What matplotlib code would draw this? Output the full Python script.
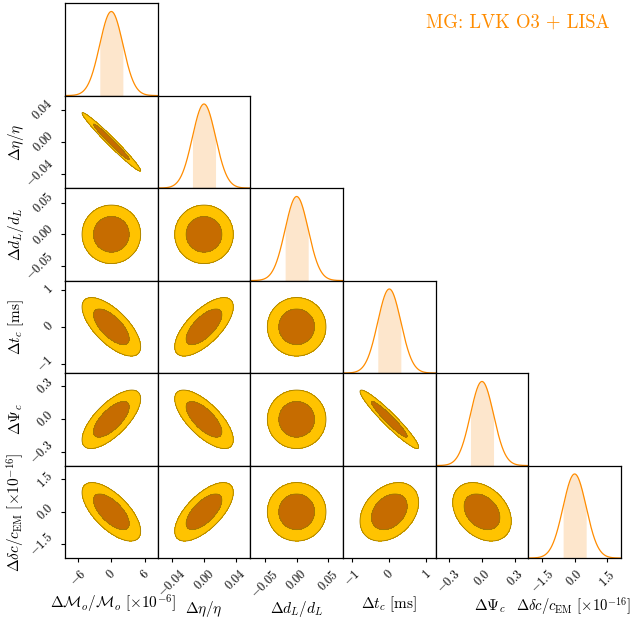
import numpy as np
import matplotlib
matplotlib.use("Agg")
import matplotlib.pyplot as plt

plt.rcParams['mathtext.fontset'] = 'cm'
plt.rcParams['font.family'] = ['DejaVu Serif']

# parameter labels, 1-sigma widths and ticks
labels = [r'$\Delta\mathcal{M}_o/\mathcal{M}_o\ [\times 10^{-6}]$',
          r'$\Delta\eta/\eta$',
          r'$\Delta d_L/d_L$',
          r'$\Delta t_c\ [\mathrm{ms}]$',
          r'$\Delta\Psi_c$',
          r'$\Delta\delta c/c_{\rm EM}\ [\times 10^{-16}]$']
sigmas = [2.08, 0.0145, 0.0183, 0.314, 0.105, 0.536]
ticks = [[-6, 0, 6], [-0.04, 0.0, 0.04], [-0.05, 0.0, 0.05],
         [-1, 0, 1], [-0.3, 0.0, 0.3], [-1.5, 0.0, 1.5]]
tick_fmt = ['%d', '%.2f', '%.2f', '%d', '%.1f', '%.1f']

# pairwise correlation coefficients (i, j)
corr = {(0, 1): -0.98, (0, 2): 0.0, (0, 3): -0.68, (0, 4): 0.70, (0, 5): -0.66,
        (1, 2): 0.0, (1, 3): 0.68, (1, 4): -0.70, (1, 5): 0.66,
        (2, 3): 0.0, (2, 4): 0.0, (2, 5): 0.0,
        (3, 4): -0.95, (3, 5): 0.32,
        (4, 5): -0.32}

# 68% and 95% 2D credible regions (Mahalanobis radii)
radii = [1.54, 2.53]

# label positions in figure pixels (x labels: centre x, y from top)
xlab_pos = [(113, 604), (204, 609), (297, 609), (389, 604), (490, 606), (574, 606)]
xlab_size = [11, 11, 11, 11, 11, 10.6]
ylab_x = 16

c_line = '#FF8C00'
c_shade = '#FDE6CC'
c_outer = '#FFC300'
c_inner = '#C66C00'
c_edge = '#A07C00'

W, H = 633, 618
n = len(labels)
fig = plt.figure(figsize=(W / 100, H / 100), dpi=100)
left, right, top, bottom = 0.1027, 0.981, 0.995, 0.097
w = (right - left) / n
h = (top - bottom) / n


def fmt(v, f):
    return '$' + (f % v) + '$'


for i in range(n):
    for j in range(i + 1):
        ax = fig.add_axes([left + j * w, top - (i + 1) * h, w, h])
        sx = sigmas[j]
        xs = np.linspace(-4 * sx, 4 * sx, 600)
        if i == j:
            pdf = np.exp(-0.5 * (xs / sx) ** 2)
            ax.plot(xs, pdf, color=c_line, lw=0.9)
            m = np.abs(xs) <= sx
            ax.fill_between(xs[m], 0, pdf[m], color=c_shade, lw=0)
            ax.set_ylim(0, 1.1)
            ax.set_yticks([])
        else:
            sy = sigmas[i]
            rho = corr[(j, i)]
            ys = np.linspace(-4 * sy, 4 * sy, 600)
            X, Y = np.meshgrid(xs, ys)
            u, v = X / sx, Y / sy
            chi2 = (u ** 2 - 2 * rho * u * v + v ** 2) / (1 - rho ** 2)
            ax.contourf(X, Y, chi2, levels=[0, radii[1] ** 2], colors=[c_outer])
            ax.contourf(X, Y, chi2, levels=[0, radii[0] ** 2], colors=[c_inner])
            ax.contour(X, Y, chi2, levels=[radii[0] ** 2, radii[1] ** 2],
                       colors=[c_edge], linewidths=0.6)
            ax.set_ylim(-4 * sy, 4 * sy)
            ax.set_yticks(ticks[i])
            if j == 0:
                ax.set_yticklabels([fmt(t, tick_fmt[i]) for t in ticks[i]],
                                   rotation=45, va='center', fontsize=9)
            else:
                ax.set_yticklabels([])
        ax.set_xlim(-4 * sx, 4 * sx)
        ax.set_xticks(ticks[j])
        if i == n - 1:
            ax.set_xticklabels([fmt(t, tick_fmt[j]) for t in ticks[j]],
                               rotation=45, ha='center', fontsize=9)
        else:
            ax.set_xticklabels([])
        ax.tick_params(length=3, width=0.8)
        if i != n - 1:
            ax.tick_params(axis='x', length=0)
        if j != 0 or i == j:
            ax.tick_params(axis='y', length=0)
        for s in ax.spines.values():
            s.set_linewidth(0.9)

# axis labels
for k in range(n):
    x, y = xlab_pos[k]
    fig.text(x / W, 1 - y / H, labels[k], fontsize=xlab_size[k],
             ha='center', va='center')
for k in range(1, n):
    yc = top - (k + 0.5) * h
    fig.text(ylab_x / W, yc, labels[k], fontsize=11, rotation=90,
             ha='center', va='center')

fig.text(0.818, 0.964, 'MG: LVK O3 + LISA', color=c_line, fontfamily='cmr10',
         fontsize=13.5, ha='center', va='center')

fig.savefig('out.png', dpi=100)
